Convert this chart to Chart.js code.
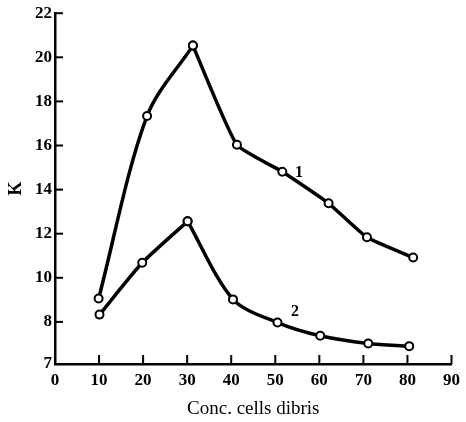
<!DOCTYPE html>
<html>
<head>
<meta charset="utf-8">
<script src="https://cdn.jsdelivr.net/npm/chart.js@4"></script>
<style>
  html, body { margin: 0; padding: 0; background: #fff; }
  #wrap { width: 466px; height: 422px; }
</style>
</head>
<body>
<div id="wrap"><canvas id="k"></canvas></div>
<script>
// Werte
const x1 = [9.9, 20.9, 31.3, 41.3, 51.6, 62.1, 70.8, 81.3];
const k1 = [9.06, 17.34, 20.53, 16.03, 14.81, 13.38, 11.84, 10.92];
const x2 = [10.1, 19.8, 30.1, 40.4, 50.5, 60.2, 71.1, 80.4];
const k2 = [8.33, 10.68, 12.56, 9.02, 7.97, 7.37, 7.02, 6.90];
const xTicks = [0, 10, 20, 30, 40, 50, 60, 70, 80, 90];
const yTicks = [8, 10, 12, 14, 16, 18, 20, 22];
const yMin = 6.09;      // untere Achse, beschriftet mit "7"
const yBottomLabel = '7';
const curveNames = ['1', '2'];
const peak = 2;         // Index des Maximums (Knick in der Kurve)

const pts = (xs, ys) => xs.map((x, i) => ({ x: x, y: ys[i] }));

// innen liegende Teilstriche + Kurvennummern
const extras = {
  id: 'extras',
  afterDraw(chart) {
    const c = chart.ctx;
    const xs = chart.scales.x, ys = chart.scales.y;
    const a = chart.chartArea;
    c.save();
    c.strokeStyle = '#000';
    c.lineWidth = 2;
    xTicks.slice(1).forEach(v => {
      const px = xs.getPixelForValue(v);
      c.beginPath(); c.moveTo(px, a.bottom); c.lineTo(px, a.bottom - 9); c.stroke();
    });
    yTicks.forEach(v => {
      const py = ys.getPixelForValue(v);
      c.beginPath(); c.moveTo(a.left, py); c.lineTo(a.left + 8, py); c.stroke();
    });
    c.fillStyle = '#000';
    c.font = 'bold 16px "Liberation Serif"';
    c.textAlign = 'center';
    c.textBaseline = 'middle';
    c.fillText(curveNames[0], xs.getPixelForValue(55.4), ys.getPixelForValue(14.76));
    c.fillText(curveNames[1], xs.getPixelForValue(54.5), ys.getPixelForValue(8.44));
    c.restore();
  }
};

const ds = (data, tension) => ({
  data: data,
  borderColor: '#000',
  borderWidth: 3.5,
  tension: tension,
  pointRadius: 4,
  pointBorderWidth: 2,
  pointBackgroundColor: '#fff',
  pointBorderColor: '#000',
  clip: false
});

const p1 = pts(x1, k1), p2 = pts(x2, k2);

new Chart(document.getElementById('k'), {
  type: 'line',
  data: {
    datasets: [
      ds(p1.slice(0, peak + 1), 0.32),
      ds(p1.slice(peak), 0.15),
      ds(p2.slice(0, peak + 1), 0.2),
      ds(p2.slice(peak), 0.3)
    ]
  },
  options: {
    responsive: true,
    maintainAspectRatio: false,
    animation: false,
    layout: { padding: { top: 12, right: 10, left: 0, bottom: 0 } },
    plugins: { legend: { display: false }, tooltip: { enabled: false } },
    scales: {
      x: {
        type: 'linear',
        min: 0, max: 90,
        afterBuildTicks: s => { s.ticks = xTicks.map(v => ({ value: v })); },
        afterFit: s => { s.height = 58; },
        grid: { display: false, drawTicks: false },
        border: { color: '#000', width: 2.5 },
        ticks: {
          color: '#000', padding: 6,
          font: { family: '"Liberation Serif"', size: 17, weight: 'bold' },
          maxRotation: 0
        },
        title: {
          display: true, text: 'Conc. cells dibris', color: '#000',
          font: { family: '"Liberation Serif"', size: 19 },
          padding: { top: 0, bottom: 2 }
        }
      },
      y: {
        min: yMin, max: 22,
        afterBuildTicks: s => {
          s.ticks = [{ value: yMin }].concat(yTicks.map(v => ({ value: v })));
        },
        afterFit: s => { s.width = 55; },
        grid: { display: false, drawTicks: false },
        border: { color: '#000', width: 2.5 },
        ticks: {
          color: '#000', padding: 3,
          font: { family: '"Liberation Serif"', size: 17, weight: 'bold' },
          callback: v => (v === yMin ? yBottomLabel : v)
        },
        title: {
          display: true, text: 'K', color: '#000',
          font: { family: '"Liberation Serif"', size: 18, weight: 'bold' },
          padding: { top: 6, bottom: 0 }
        }
      }
    }
  },
  plugins: [extras]
});
</script>
</body>
</html>
